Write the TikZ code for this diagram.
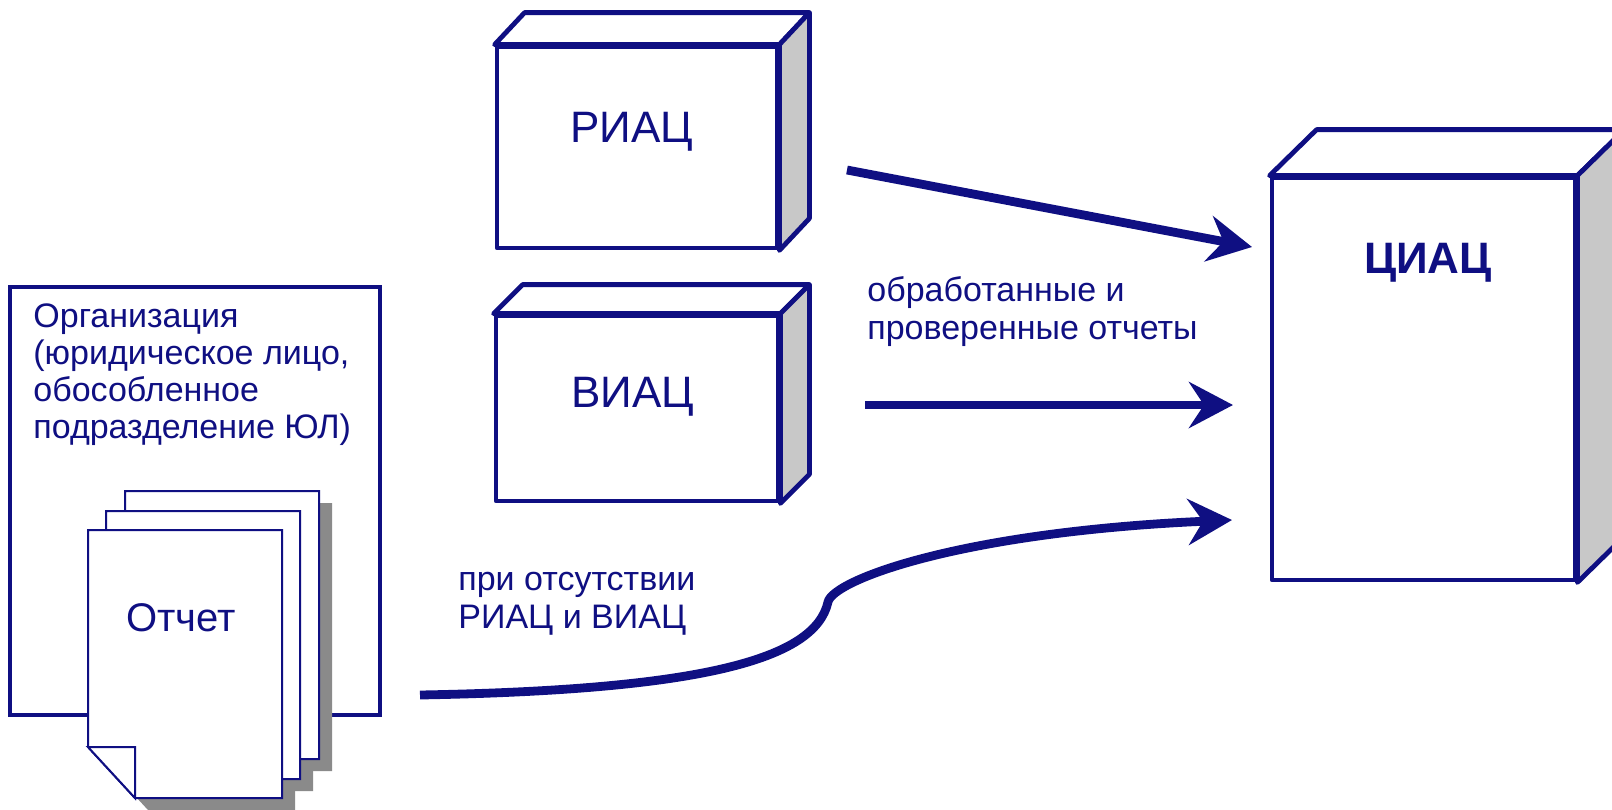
\documentclass[tikz,border=0pt]{standalone}
\usepackage{fontspec}
\setmainfont{Liberation Sans}
\usetikzlibrary{calc,arrows.meta}
\definecolor{navy}{RGB}{15,15,130}
\definecolor{sidegray}{RGB}{200,200,200}
\definecolor{shadowgray}{RGB}{138,138,138}
\tikzset{
  edge3d/.style={draw=navy, line width=2.4pt, line join=round},
  frontface/.style={edge3d, fill=white, rectangle, inner sep=0pt},
  topface/.style={edge3d, fill=white},
  sideface/.style={edge3d, fill=sidegray},
  boxtext/.style={text=navy, font=\fontsize{22}{26}\selectfont, anchor=base, inner sep=0pt},
  lbl/.style={text=navy, font=\fontsize{17}{19}\selectfont, align=left, anchor=base west, inner sep=0pt},
  flow/.style={draw=navy, line width=4.4pt, -{Stealth[length=22pt,width=23pt,inset=7.5pt]}},
  page/.style={draw=navy, line width=1pt, fill=white},
  pageshadow/.style={fill=shadowgray},
  orgbox/.style={draw=navy, line width=2.4pt, fill=white, inner sep=0pt},
}
\begin{document}
\begin{tikzpicture}[x=0.5pt,y=-0.5pt]
\useasboundingbox (0,0) rectangle (1612,809);
\clip (0,0) rectangle (1612,809);
\fill[white] (0,0) rectangle (1612,809);

% organisation
\node[orgbox, minimum width=185pt, minimum height=214pt] (org) at (195,501) {};
\node[lbl, font=\fontsize{17}{18.4}\selectfont] (orgt) at (33,438)
  {Организация\\(юридическое лицо,\\обособленное\\подразделение ЮЛ)};

% report stack: shadows (page offsets relative to front page)
\foreach \dx/\dy in {37/-39, 18/-19, 0/0}
  \fill[pageshadow] ({101+\dx},{542+\dy}) -- ++(194,0) -- ++(0,268) -- ++(-147,0) -- ++(-47,-51) -- cycle;
% pages
\foreach \dx/\dy in {37/-39, 18/-19}
  \path[page] ({88+\dx},{530+\dy}) -- ++(194,0) -- ++(0,268) -- ++(-147,0) -- ++(-47,-51) -- cycle;
\path[page] (88,530) -- (282,530) -- (282,798) -- (135,798) -- (88,747) -- cycle;
\path[page] (88,747) -- (135,747) -- (135,798) -- cycle;
\node[text=navy, font=\fontsize{20}{24}\selectfont, anchor=base, inner sep=0pt] (rep) at (181,631) {Отчет};

% RIAC
\node[frontface, minimum width=140pt, minimum height=100.5pt] (riac) at (637,147.5) {};
\path[topface] (riac.north west) -- ++(30,-32) -- ($(riac.north east)+(30,-32)$) -- (riac.north east) -- cycle;
\path[sideface] (riac.north east) -- ++(30,-32) -- ($(riac.south east)+(30,-32)$) -- (riac.south east) -- cycle;
\node[boxtext] (riact) at (632,142) {РИАЦ};

% VIAC
\node[frontface, minimum width=141pt, minimum height=92.5pt] (viac) at (637,408.5) {};
\path[topface] (viac.north west) -- ++(29,-29) -- ($(viac.north east)+(29,-29)$) -- (viac.north east) -- cycle;
\path[sideface] (viac.north east) -- ++(29,-29) -- ($(viac.south east)+(29,-29)$) -- (viac.south east) -- cycle;
\node[boxtext] (viact) at (633,407) {ВИАЦ};

% CIAC
\node[frontface, minimum width=151.5pt, minimum height=201pt] (ciac) at (1423.5,379) {};
\path[topface] (ciac.north west) -- ++(47,-46) -- ($(ciac.north east)+(47,-46)$) -- (ciac.north east) -- cycle;
\path[sideface] (ciac.north east) -- ++(47,-46) -- ($(ciac.south east)+(47,-46)$) -- (ciac.south east) -- cycle;
\node[boxtext, font=\bfseries\fontsize{22}{26}\selectfont] (ciact) at (1428,273) {ЦИАЦ};

% connectors
\coordinate (a1s) at (847,170);  \coordinate (a1e) at (1252,247);
\coordinate (a2s) at (865,405);  \coordinate (a2e) at (1233,405);
\coordinate (a3s) at (420,695);  \coordinate (a3m) at (828,602); \coordinate (a3e) at (1232,520);
\draw[flow] (a1s) -- (a1e);
\draw[flow] (a2s) -- (a2e);
\draw[flow] (a3s) .. controls (700,690) and (815,660) .. (a3m) .. controls (833,580) and (960,532) .. (a3e);

% labels
\node[lbl] (l1) at (867,339) {обработанные и\\проверенные отчеты};
\node[lbl] (l2) at (458,628) {при отсутствии\\РИАЦ и ВИАЦ};
\end{tikzpicture}
\end{document}
